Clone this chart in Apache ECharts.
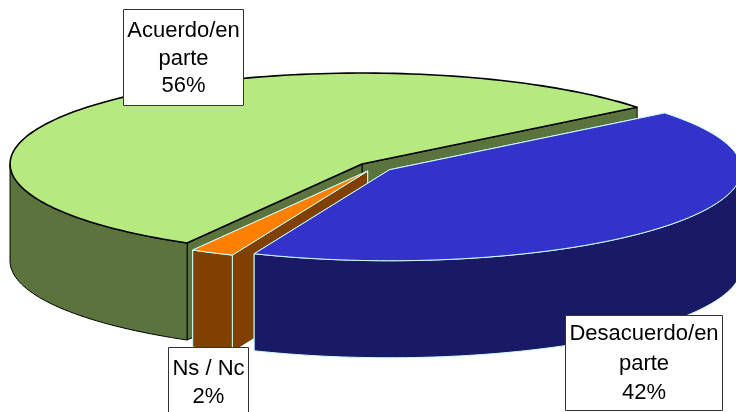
<!DOCTYPE html>
<html>
<head>
<meta charset="utf-8">
<style>html,body{margin:0;padding:0;background:#fff}#c{width:736px;height:412px}</style>
<script src="https://cdn.jsdelivr.net/npm/echarts@6/dist/echarts.min.js"></script>
</head>
<body>
<div id="c"></div>
<script>
// Data, clockwise from the first slice
var categories = ['Desacuerdo/en\nparte', 'Ns / Nc', 'Acuerdo/en\nparte'];
var values = [42, 2, 56];

// Styles and layout
var topColors = ['#3333CC', '#FF8000', '#B6E97F'];
var sideColors = ['#191966', '#804000', '#5B733D'];
var edgeColors = ['#CCFFFF', '#CCFFFF', '#000000'];
var edgeWidths = [1, 1, 1.6];
var paintOrder = [2, 1, 0];
var boxes = [
  { x: 565.5, y: 315.5, w: 157, h: 95, cy: 363.5, lh: 29.5 },
  { x: 168.5, y: 347.5, w: 80, h: 80, cy: 383, lh: 28 },
  { x: 123.5, y: 9.5, w: 120, h: 96, cy: 58.5, lh: 27.5 }
];
var pie = { cx: 375.4, cy: 167, rx: 352, ry: 91, depth: 97, explode: 0.05, firstAngle: -38.6 };

var total = values.reduce(function (a, b) { return a + b; }, 0);
var slices = [];
(function () {
  var a = pie.firstAngle;
  values.forEach(function (v, i) {
    var sweep = v / total * 360;
    var mid = (a + sweep / 2) * Math.PI / 180;
    slices.push({
      index: i,
      start: a,
      end: a + sweep,
      ox: pie.cx + pie.explode * pie.rx * Math.cos(mid),
      oy: pie.cy + pie.explode * pie.ry * Math.sin(mid)
    });
    a += sweep;
  });
})();

function pt(s, deg, dy) {
  var r = deg * Math.PI / 180;
  return [s.ox + pie.rx * Math.cos(r), s.oy + pie.ry * Math.sin(r) + (dy || 0)];
}
function arc(s, from, to, dy) {
  var pts = [], n = Math.max(2, Math.ceil(Math.abs(to - from) / 1.5));
  for (var k = 0; k <= n; k++) pts.push(pt(s, from + (to - from) * k / n, dy));
  return pts;
}
function poly(points, fill, stroke, lw) {
  return {
    type: 'polygon',
    shape: { points: points },
    style: { fill: fill, stroke: stroke, lineWidth: lw, lineJoin: 'round' }
  };
}
// Visible part of the outer wall: the stretch of the rim facing the viewer (0..180 deg)
function frontRange(s) {
  for (var shift = -360; shift <= 360; shift += 360) {
    var lo = Math.max(s.start, shift), hi = Math.min(s.end, shift + 180);
    if (hi > lo) return [lo, hi];
  }
  return null;
}
function renderSlice(params) {
  var s = slices[paintOrder[params.dataIndex]];
  var i = s.index, side = sideColors[i], edge = edgeColors[i], lw = edgeWidths[i];
  var apex = [s.ox, s.oy], apexLow = [s.ox, s.oy + pie.depth];
  var children = [];
  [s.end, s.start].forEach(function (ang) {
    children.push(poly([apex, pt(s, ang), pt(s, ang, pie.depth), apexLow], side, edge, 1));
  });
  var fr = frontRange(s);
  if (fr) {
    children.push(poly(arc(s, fr[0], fr[1], 0).concat(arc(s, fr[1], fr[0], pie.depth)), side, edge, 1));
  }
  children.push(poly([apex].concat(arc(s, s.start, s.end, 0)), topColors[i], edge, lw));
  return { type: 'group', children: children };
}
function renderLabel(params) {
  var i = params.dataIndex, b = boxes[i];
  var pct = Math.round(values[i] / total * 100) + '%';
  return {
    type: 'group',
    children: [
      { type: 'rect', shape: { x: b.x, y: b.y, width: b.w, height: b.h },
        style: { fill: '#fff', stroke: '#333', lineWidth: 1 } },
      { type: 'text',
        style: { x: b.x + b.w / 2, y: b.cy, text: categories[i] + '\n' + pct,
          align: 'center', verticalAlign: 'middle', fill: '#000',
          font: '22px "Liberation Sans", Arial, sans-serif', lineHeight: b.lh } }
    ]
  };
}
var chart = echarts.init(document.getElementById('c'), null, { renderer: 'canvas' });
chart.setOption({
  animation: false,
  backgroundColor: '#fff',
  series: [
    { type: 'custom', coordinateSystem: 'none', silent: true, z: 2,
      data: paintOrder.map(function (k) { return values[k]; }), renderItem: renderSlice },
    { type: 'custom', coordinateSystem: 'none', silent: true, z: 3,
      data: values, renderItem: renderLabel }
  ]
});
</script>
</body>
</html>
